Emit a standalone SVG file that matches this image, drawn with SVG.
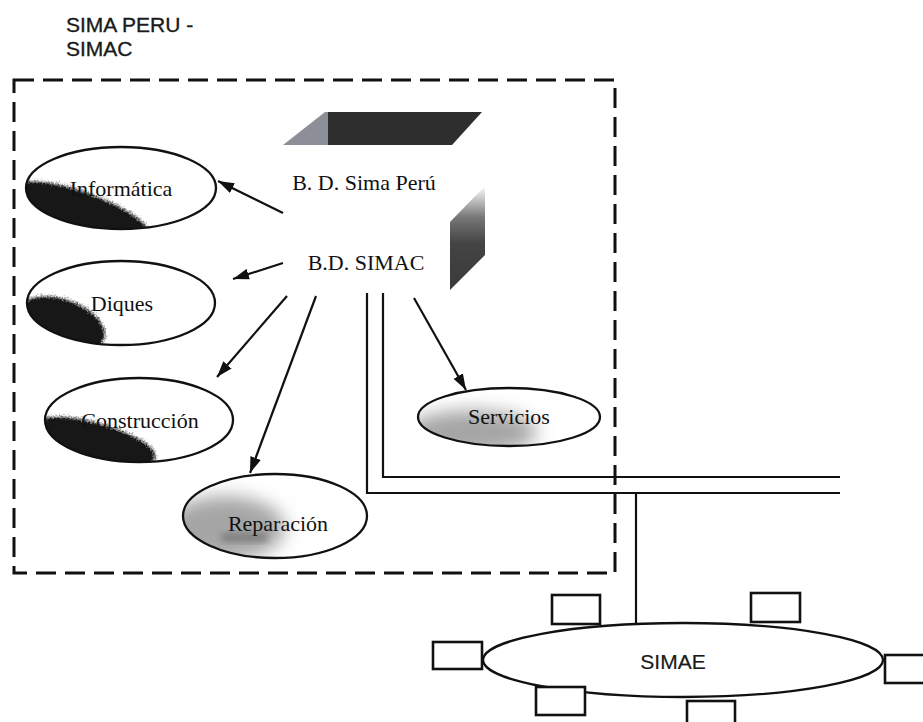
<svg xmlns="http://www.w3.org/2000/svg" width="923" height="722" viewBox="0 0 923 722">
<style>
.lbl{font-family:"Liberation Serif","Times New Roman",serif;font-size:22px;fill:#111;text-anchor:middle}
.sans{font-family:"Liberation Sans",Arial,sans-serif;font-size:21px;fill:#1a1a1a;stroke:#1a1a1a;stroke-width:0.35}
.node{fill:none;stroke:#111;stroke-width:2.3}
.arr{stroke:#111;stroke-width:2.2;fill:none;marker-end:url(#ah)}
.wire{stroke:#111;stroke-width:2.2;fill:none}
.box{fill:#fff;stroke:#111;stroke-width:2.6}
</style>
<defs>
<marker id="ah" viewBox="0 0 16 11" refX="16" refY="5.5" markerWidth="16" markerHeight="11" orient="auto" markerUnits="userSpaceOnUse"><path d="M0,0 L16,5.5 L0,11 z" fill="#111"/></marker>
<filter id="spray" x="-30%" y="-30%" width="160%" height="160%" color-interpolation-filters="sRGB">
<feGaussianBlur in="SourceGraphic" stdDeviation="6" result="b"/>
<feTurbulence type="fractalNoise" baseFrequency="0.75" numOctaves="2" seed="4" result="n"/>
<feComposite in="b" in2="n" operator="arithmetic" k1="0" k2="2.0" k3="1.1" k4="-0.95" result="m"/>
<feColorMatrix in="m" type="matrix" values="0 0 0 0 0.09  0 0 0 0 0.09  0 0 0 0 0.09  0 0 0 1.6 -0.1"/>
</filter>
<filter id="blur8" x="-40%" y="-40%" width="180%" height="180%"><feGaussianBlur stdDeviation="9"/></filter>
<filter id="blur3" x="-30%" y="-30%" width="160%" height="160%"><feGaussianBlur stdDeviation="3"/></filter>
<linearGradient id="side" x1="0" y1="0" x2="0" y2="1"><stop offset="0" stop-color="#fff"/><stop offset="0.3" stop-color="#777"/><stop offset="0.55" stop-color="#444"/><stop offset="1" stop-color="#3a3a3a"/></linearGradient>
<clipPath id="c1"><ellipse cx="121" cy="188" rx="95" ry="41"/></clipPath>
<clipPath id="c2"><ellipse cx="121" cy="303" rx="94" ry="42"/></clipPath>
<clipPath id="c3"><ellipse cx="139" cy="420" rx="94" ry="42"/></clipPath>
<clipPath id="c4"><ellipse cx="275" cy="516" rx="92" ry="42"/></clipPath>
<clipPath id="c5"><ellipse cx="509" cy="417" rx="91" ry="29"/></clipPath>
</defs>
<rect width="923" height="722" fill="#fff"/>

<g id="title">
<text class="sans" x="66" y="32">SIMA PERU -</text>
<text class="sans" x="66" y="56">SIMAC</text>
</g>

<g id="boundary">
<path d="M14,80 H615 V573 H14 Z" fill="none" stroke="#111" stroke-width="3" stroke-dasharray="20 9"/>
</g>

<g id="database">
<polygon points="328,112 482,112 452,145 328,145" fill="#2e2e2e"/>
<polygon points="283,145 325,112 328,112 328,145" fill="#8d8f98"/>
<polygon points="450,222 485,186 485,255 450,290" fill="url(#side)"/>
<text class="lbl" x="364" y="190">B. D. Sima Perú</text>
<text class="lbl" x="366" y="270">B.D. SIMAC</text>
</g>

<g id="informatica">
<g clip-path="url(#c1)"><ellipse cx="82" cy="214" rx="72" ry="20" transform="rotate(20 82 214)" fill="#000" filter="url(#spray)"/></g>
<ellipse class="node" cx="121" cy="188" rx="95" ry="41"/>
<text class="lbl" x="121" y="196">Informática</text>
</g>

<g id="diques">
<g clip-path="url(#c2)"><ellipse cx="62" cy="324" rx="44" ry="23" transform="rotate(20 62 324)" fill="#000" filter="url(#spray)"/></g>
<ellipse class="node" cx="121" cy="303" rx="94" ry="42"/>
<text class="lbl" x="122" y="311">Diques</text>
</g>

<g id="construccion">
<g clip-path="url(#c3)"><ellipse cx="96" cy="442" rx="62" ry="17" transform="rotate(16 96 442)" fill="#000" filter="url(#spray)"/></g>
<ellipse class="node" cx="139" cy="420" rx="94" ry="42"/>
<text class="lbl" x="140" y="428">Construcción</text>
</g>

<g id="reparacion">
<g clip-path="url(#c4)"><ellipse cx="225" cy="528" rx="60" ry="32" fill="#a5a5a5" filter="url(#blur8)"/><rect x="222" y="533" width="45" height="9" fill="#555" filter="url(#blur3)" opacity="0.45"/></g>
<ellipse class="node" cx="275" cy="516" rx="92" ry="42"/>
<text class="lbl" x="278" y="531">Reparación</text>
</g>

<g id="servicios">
<g clip-path="url(#c5)"><ellipse cx="472" cy="432" rx="65" ry="22" fill="#a5a5a5" filter="url(#blur8)"/></g>
<ellipse class="node" cx="509" cy="417" rx="91" ry="29"/>
<text class="lbl" x="509" y="424">Servicios</text>
</g>

<g id="connectors">
<line class="arr" x1="283" y1="213" x2="218" y2="181"/>
<line class="arr" x1="283" y1="263" x2="233" y2="279"/>
<line class="arr" x1="287" y1="296" x2="217" y2="377"/>
<line class="arr" x1="316" y1="296" x2="250" y2="473"/>
<line class="arr" x1="414" y1="298" x2="466" y2="390"/>
<path class="wire" d="M367,293 V493 H840"/>
<path class="wire" d="M383,293 V477 H840"/>
<path class="wire" d="M636,493 V624"/>
</g>

<g id="simae">
<ellipse cx="683" cy="660" rx="200" ry="37" fill="#fff" stroke="#111" stroke-width="2.3"/>
<text class="sans" x="673" y="669" text-anchor="middle" style="stroke-width:0.2">SIMAE</text>
</g>
<g id="pc1"><rect class="box" x="552" y="595" width="48" height="29"/></g>
<g id="pc2"><rect class="box" x="751" y="593" width="49" height="29"/></g>
<g id="pc3"><rect class="box" x="433" y="642" width="49" height="27"/></g>
<g id="pc4"><rect class="box" x="885" y="655" width="48" height="28"/></g>
<g id="pc5"><rect class="box" x="536" y="687" width="49" height="28"/></g>
<g id="pc6"><rect class="box" x="687" y="701" width="48" height="30"/></g>
</svg>
